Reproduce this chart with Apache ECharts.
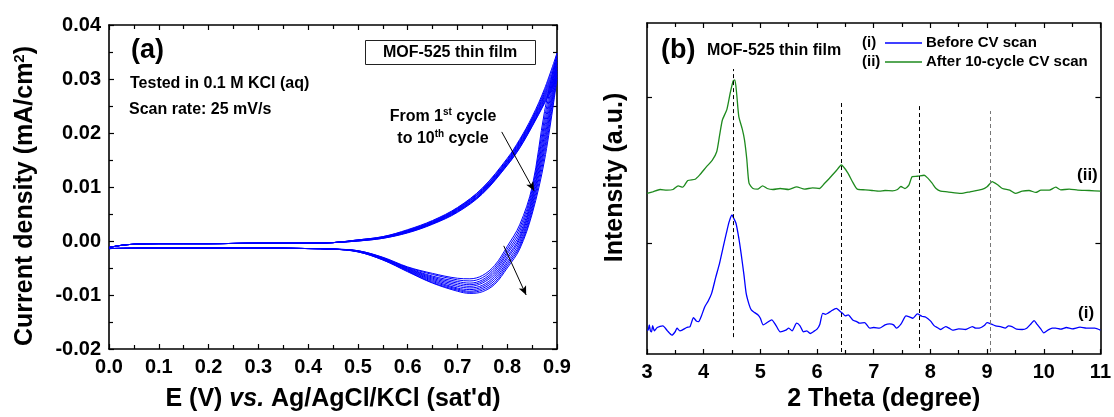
<!DOCTYPE html>
<html>
<head>
<meta charset="utf-8">
<script src="https://cdn.jsdelivr.net/npm/echarts@6.0.0/dist/echarts.min.js"></script>
<style>
html, body { margin: 0; padding: 0; background: #fff; }
#main { width: 1114px; height: 417px; }
</style>
</head>
<body>
<div id="main"></div>
<script>
// ---- panel (a): CV, 10 cycles ----
var cvForwardE = [0, 0.025, 0.05, 0.1, 0.2, 0.3, 0.4, 0.45, 0.5, 0.55, 0.6, 0.65, 0.7, 0.75, 0.8, 0.825, 0.85, 0.875, 0.9];
var cvReverseE = [0.9, 0.875, 0.85, 0.825, 0.8, 0.775, 0.75, 0.725, 0.7, 0.65, 0.6, 0.55, 0.5, 0.45, 0.4, 0.3, 0.2, 0.1, 0];

var cvForward = [
  [-0.0012, -0.0008, -0.0006, -0.0005, -0.0005, -0.0004, -0.0004, -0.0003, 0.0002, 0.0008, 0.0021, 0.0038, 0.0062, 0.0098, 0.0153, 0.0188, 0.0230, 0.0282, 0.0348],
  [-0.0012, -0.0008, -0.0006, -0.0005, -0.0005, -0.0004, -0.0004, -0.0003, 0.0002, 0.0008, 0.0020, 0.0037, 0.0061, 0.0097, 0.0151, 0.0186, 0.0227, 0.0278, 0.0342],
  [-0.0012, -0.0008, -0.0006, -0.0005, -0.0005, -0.0004, -0.0004, -0.0003, 0.0002, 0.0007, 0.0019, 0.0036, 0.0060, 0.0095, 0.0149, 0.0184, 0.0225, 0.0274, 0.0336],
  [-0.0012, -0.0008, -0.0006, -0.0005, -0.0005, -0.0004, -0.0004, -0.0003, 0.0001, 0.0007, 0.0019, 0.0035, 0.0059, 0.0094, 0.0148, 0.0182, 0.0223, 0.0271, 0.0331],
  [-0.0012, -0.0008, -0.0006, -0.0005, -0.0005, -0.0004, -0.0004, -0.0003, 0.0001, 0.0007, 0.0018, 0.0034, 0.0058, 0.0093, 0.0146, 0.0180, 0.0221, 0.0268, 0.0325],
  [-0.0012, -0.0008, -0.0006, -0.0005, -0.0005, -0.0004, -0.0004, -0.0003, 0.0001, 0.0006, 0.0017, 0.0034, 0.0057, 0.0091, 0.0145, 0.0178, 0.0219, 0.0265, 0.0320],
  [-0.0012, -0.0008, -0.0006, -0.0005, -0.0005, -0.0004, -0.0004, -0.0003, 0.0001, 0.0006, 0.0017, 0.0033, 0.0056, 0.0090, 0.0144, 0.0177, 0.0217, 0.0262, 0.0315],
  [-0.0012, -0.0008, -0.0006, -0.0005, -0.0005, -0.0004, -0.0004, -0.0003, 0.0000, 0.0006, 0.0016, 0.0032, 0.0055, 0.0089, 0.0142, 0.0175, 0.0215, 0.0259, 0.0310],
  [-0.0012, -0.0008, -0.0006, -0.0005, -0.0005, -0.0004, -0.0004, -0.0003, 0.0000, 0.0005, 0.0016, 0.0032, 0.0054, 0.0088, 0.0141, 0.0173, 0.0213, 0.0257, 0.0305],
  [-0.0012, -0.0008, -0.0006, -0.0005, -0.0005, -0.0004, -0.0004, -0.0003, 0.0000, 0.0005, 0.0015, 0.0031, 0.0053, 0.0087, 0.0140, 0.0172, 0.0212, 0.0255, 0.0300]
];

var cvReverse = [
  [0.0348, 0.0240, 0.0100, 0.0030, -0.0010, -0.0045, -0.0064, -0.0070, -0.0069, -0.0060, -0.0048, -0.0030, -0.0018, -0.0015, -0.0014, -0.0013, -0.0013, -0.0013, -0.0014],
  [0.0342, 0.0228, 0.0094, 0.0024, -0.0015, -0.0049, -0.0068, -0.0074, -0.0072, -0.0062, -0.0049, -0.0031, -0.0018, -0.0015, -0.0014, -0.0013, -0.0013, -0.0013, -0.0014],
  [0.0336, 0.0217, 0.0088, 0.0018, -0.0020, -0.0053, -0.0072, -0.0078, -0.0075, -0.0065, -0.0050, -0.0031, -0.0018, -0.0015, -0.0014, -0.0013, -0.0013, -0.0013, -0.0014],
  [0.0331, 0.0207, 0.0082, 0.0012, -0.0024, -0.0057, -0.0075, -0.0081, -0.0078, -0.0067, -0.0051, -0.0032, -0.0019, -0.0015, -0.0014, -0.0013, -0.0013, -0.0013, -0.0014],
  [0.0325, 0.0197, 0.0077, 0.0007, -0.0029, -0.0061, -0.0078, -0.0084, -0.0081, -0.0069, -0.0052, -0.0033, -0.0019, -0.0015, -0.0014, -0.0013, -0.0013, -0.0013, -0.0014],
  [0.0320, 0.0188, 0.0072, 0.0003, -0.0033, -0.0065, -0.0082, -0.0087, -0.0084, -0.0071, -0.0053, -0.0033, -0.0019, -0.0015, -0.0014, -0.0013, -0.0013, -0.0013, -0.0014],
  [0.0315, 0.0179, 0.0066, -0.0002, -0.0038, -0.0069, -0.0085, -0.0090, -0.0087, -0.0073, -0.0054, -0.0034, -0.0019, -0.0015, -0.0014, -0.0013, -0.0013, -0.0013, -0.0014],
  [0.0310, 0.0170, 0.0061, -0.0007, -0.0042, -0.0073, -0.0088, -0.0093, -0.0089, -0.0075, -0.0055, -0.0034, -0.0020, -0.0015, -0.0014, -0.0013, -0.0013, -0.0013, -0.0014],
  [0.0305, 0.0160, 0.0055, -0.0011, -0.0046, -0.0077, -0.0091, -0.0095, -0.0091, -0.0077, -0.0056, -0.0035, -0.0020, -0.0015, -0.0014, -0.0013, -0.0013, -0.0013, -0.0014],
  [0.0300, 0.0150, 0.0050, -0.0015, -0.0050, -0.0080, -0.0094, -0.0097, -0.0093, -0.0078, -0.0057, -0.0035, -0.0020, -0.0015, -0.0014, -0.0013, -0.0013, -0.0013, -0.0014]
];

// ---- panel (b): XRD ----
var thetaBefore = [3.00, 3.02, 3.04, 3.06, 3.08, 3.10, 3.13, 3.18, 3.28, 3.36, 3.44, 3.50, 3.53, 3.58, 3.62, 3.70, 3.76, 3.82, 3.87, 3.91,
  3.96, 4.02, 4.08, 4.14, 4.21, 4.28, 4.34, 4.40, 4.45, 4.50, 4.53, 4.57, 4.62, 4.66, 4.71, 4.75, 4.80, 4.84, 4.90, 4.96,
  5.00, 5.05, 5.12, 5.20, 5.28, 5.35, 5.45, 5.50, 5.56, 5.64, 5.70, 5.76, 5.82, 5.88, 5.94, 6.00, 6.05, 6.10, 6.15, 6.19,
  6.25, 6.34, 6.40, 6.45, 6.50, 6.55, 6.63, 6.70, 6.75, 6.84, 6.93, 7.00, 7.10, 7.20, 7.28, 7.35, 7.40, 7.48, 7.57, 7.63,
  7.69, 7.77, 7.85, 7.92, 8.00, 8.07, 8.12, 8.18, 8.27, 8.33, 8.39, 8.50, 8.62, 8.74, 8.80, 8.86, 8.95, 9.00, 9.08, 9.15,
  9.25, 9.32, 9.38, 9.44, 9.52, 9.62, 9.70, 9.78, 9.83, 9.88, 9.95, 10.00, 10.08, 10.15, 10.21, 10.30, 10.40, 10.50, 10.64, 10.75,
  10.90, 11.00];
var intBefore = [72, 72, 88, 70, 67, 86, 70, 80, 85, 70, 57, 68, 78, 70, 72, 80, 83, 110, 100, 98,
  115, 143, 160, 183, 230, 274, 320, 365, 400, 420, 410, 395, 350, 304, 240, 183, 150, 133, 125, 118,
  108, 88, 95, 103, 85, 67, 72, 78, 70, 93, 85, 67, 70, 62, 68, 75, 90, 123, 120, 123,
  130, 138, 130, 123, 115, 118, 103, 98, 93, 95, 78, 80, 78, 88, 91, 88, 78, 90, 115, 112,
  108, 121, 114, 111, 100, 85, 80, 74, 83, 78, 72, 76, 74, 83, 78, 78, 86, 95, 90, 85,
  82, 78, 85, 83, 75, 74, 78, 92, 101, 90, 75, 64, 73, 78, 78, 75, 80, 76, 81, 78,
  78, 72];

var thetaAfter = [3.00, 3.10, 3.23, 3.35, 3.46, 3.55, 3.63, 3.72, 3.85, 3.93, 4.05, 4.15, 4.23, 4.28, 4.33, 4.41, 4.47, 4.52, 4.55, 4.58,
  4.62, 4.68, 4.72, 4.76, 4.80, 4.87, 4.95, 5.04, 5.12, 5.22, 5.35, 5.50, 5.64, 5.78, 5.92, 6.04, 6.13, 6.22, 6.33, 6.43,
  6.54, 6.62, 6.71, 6.85, 6.97, 7.10, 7.20, 7.33, 7.42, 7.48, 7.55, 7.62, 7.68, 7.77, 7.89, 7.95, 8.03, 8.10, 8.18, 8.30,
  8.54, 8.70, 8.91, 9.00, 9.09, 9.18, 9.27, 9.40, 9.50, 9.62, 9.74, 9.86, 9.95, 10.10, 10.21, 10.30, 10.45, 10.60, 10.80, 11.00];
var intAfter = [485, 490, 497, 495, 497, 508, 504, 524, 528, 541, 566, 585, 611, 660, 707, 739, 790, 825, 828, 790,
  717, 680, 647, 590, 516, 500, 498, 508, 500, 497, 500, 497, 505, 498, 502, 500, 515, 531, 552, 571,
  548, 522, 498, 496, 494, 492, 494, 493, 497, 506, 500, 510, 536, 537, 540, 532, 516, 500, 492, 490,
  485, 490, 497, 505, 521, 512, 500, 495, 485, 492, 494, 488, 495, 495, 504, 496, 498, 495, 494, 492];

var peakTheta = [4.53, 6.42, 7.80, 9.06];
var peakLineFrom = [51, 6, 18, 6];
var peakLineTo = [861, 767, 749, 734];
var intensityTicks = [334, 777];

var legendNames = ['Before CV scan', 'After 10-cycle CV scan'];
var legendTags = ['(i)', '(ii)'];
var blue = '#0000ff', green = '#1e8a1e';

var FONT = "'Liberation Sans', Arial, Helvetica, sans-serif";

var chart = echarts.init(document.getElementById('main'), null, { renderer: 'canvas' });

function frameAxis(gridIndex, pos, min, max, interval, opts) {
  var ax = {
    type: 'value', gridIndex: gridIndex, position: pos,
    min: min, max: max, interval: interval,
    axisLine: { show: true, onZero: false, lineStyle: { color: '#000', width: 1.6 } },
    axisTick: { show: true, inside: true, length: 5, lineStyle: { color: '#000', width: 1.2 } },
    minorTick: { show: true, splitNumber: 2, length: 4, lineStyle: { color: '#000', width: 1.2 } },
    splitLine: { show: false },
    axisLabel: { show: false }
  };
  for (var k in opts) ax[k] = opts[k];
  return ax;
}

var labelStyle = function (fmt, margin) {
  return { show: true, color: '#000', fontSize: 20, fontWeight: 'bold', fontFamily: FONT, margin: margin,
    formatter: fmt, showMinLabel: true, showMaxLabel: true };
};

var nameRich = {
  a: { fontSize: 25, fontWeight: 'bold', fontFamily: FONT, color: '#000' },
  i: { fontSize: 25, fontWeight: 'bold', fontStyle: 'italic', fontFamily: FONT, color: '#000' },
  s: { fontSize: 15, fontWeight: 'bold', fontFamily: FONT, color: '#000', padding: [0, 0, 12, 0] }
};

var series = [];
for (var c = 0; c < cvForward.length; c++) {
  var pts = [];
  for (var i = 0; i < cvForwardE.length; i++) pts.push([cvForwardE[i], cvForward[c][i]]);
  for (var j = 1; j < cvReverseE.length; j++) pts.push([cvReverseE[j], cvReverse[c][j]]);
  series.push({
    name: 'cycle ' + (c + 1), type: 'line', xAxisIndex: 0, yAxisIndex: 0,
    data: pts, smooth: 0.35, showSymbol: false, symbol: 'none',
    lineStyle: { color: blue, width: 1 }, silent: true
  });
}
series[0].markLine = {
  silent: true, symbol: ['none', 'arrow'], symbolSize: [6, 9],
  label: { show: false },
  lineStyle: { color: '#000', width: 1, type: 'solid' },
  data: [
    [{ coord: [0.789, 0.0202] }, { coord: [0.854, 0.0093] }],
    [{ coord: [0.793, -0.0009] }, { coord: [0.838, -0.0100] }]
  ]
};

var peakLines = [];
for (var p = 0; p < peakTheta.length; p++) {
  peakLines.push([
    { coord: [peakTheta[p], peakLineFrom[p]], lineStyle: { color: p === 3 ? '#777' : '#000' } },
    { coord: [peakTheta[p], peakLineTo[p]] }
  ]);
}

series.push({
  name: legendNames[0], type: 'line', xAxisIndex: 2, yAxisIndex: 2,
  data: thetaBefore.map(function (t, k) { return [t, intBefore[k]]; }),
  showSymbol: false, symbol: 'none', smooth: 0.2,
  itemStyle: { color: blue }, lineStyle: { color: blue, width: 1.3 },
  markLine: {
    silent: true, symbol: ['none', 'none'], label: { show: false },
    lineStyle: { color: '#000', width: 1, type: [4, 3] },
    data: peakLines
  }
});
series.push({
  name: legendNames[1], type: 'line', xAxisIndex: 2, yAxisIndex: 2,
  data: thetaAfter.map(function (t, k) { return [t, intAfter[k]]; }),
  showSymbol: false, symbol: 'none', smooth: 0.2,
  itemStyle: { color: green }, lineStyle: { color: green, width: 1.3 }
});

function txt(x, y, text, size, extra) {
  var st = { text: text, x: x, y: y, fill: '#000', font: 'bold ' + size + 'px ' + FONT,
    align: 'left', verticalAlign: 'middle' };
  if (extra) for (var k in extra) st[k] = extra[k];
  return { type: 'text', silent: true, style: st, z: 100 };
}

var supRich = {
  a: { fontSize: 16, fontWeight: 'bold', fontFamily: FONT, fill: '#000', color: '#000' },
  s: { fontSize: 10, fontWeight: 'bold', fontFamily: FONT, fill: '#000', color: '#000', padding: [0, 0, 9, 0] }
};

var graphics = [
  txt(131, 51, '(a)', 27),
  { type: 'rect', silent: true, z: 99, shape: { x: 365.5, y: 40.5, width: 170, height: 24 },
    style: { fill: '#fff', stroke: '#222', lineWidth: 1 } },
  txt(450, 52.5, 'MOF-525 thin film', 16, { align: 'center' }),
  txt(130, 84, 'Tested in 0.1 M KCl (aq)', 16),
  txt(129, 110, 'Scan rate: 25 mV/s', 16),
  txt(443, 117, '{a|From 1}{s|st}{a| cycle}', 16, { align: 'center', rich: supRich }),
  txt(443, 139, '{a|to 10}{s|th}{a| cycle}', 16, { align: 'center', rich: supRich }),
  txt(661, 51, '(b)', 27),
  txt(707, 51, 'MOF-525 thin film', 16),
  txt(1077, 175, '(ii)', 17),
  txt(1078, 313, '(i)', 17)
];
// legend drawn as graphic: tag, line sample, name
var legendColors = [blue, green];
for (var g = 0; g < legendNames.length; g++) {
  var ly = 43 + g * 19;
  graphics.push(txt(862, ly, legendTags[g], 15));
  graphics.push({ type: 'line', silent: true, z: 100,
    shape: { x1: 885, y1: ly, x2: 922, y2: ly },
    style: { stroke: legendColors[g], lineWidth: 1.5 } });
  graphics.push(txt(926, ly, legendNames[g], 15));
}

var option = {
  animation: false,
  backgroundColor: '#fff',
  textStyle: { fontFamily: FONT },
  grid: [
    { left: 109, top: 25, width: 448, height: 324 },
    { left: 647, top: 23, width: 455, height: 331 }
  ],
  xAxis: [
    frameAxis(0, 'bottom', 0, 0.9, 0.1, {
      axisLabel: labelStyle(function (v) { return v.toFixed(1); }, 8),
      name: "{a|E (V) }{i|vs.}{a| Ag/AgCl/KCl (sat'd)}",
      nameLocation: 'middle', nameGap: 38,
      nameTextStyle: { rich: nameRich }
    }),
    frameAxis(0, 'top', 0, 0.9, 0.1, {}),
    frameAxis(1, 'bottom', 3, 11, 1, {
      axisLabel: labelStyle(function (v) { return String(v); }, 8),
      name: '2 Theta (degree)', nameLocation: 'middle', nameGap: 33,
      nameTextStyle: { color: '#000', fontSize: 25, fontWeight: 'bold', fontFamily: FONT, padding: [0, 0, 0, 20] }
    }),
    frameAxis(1, 'top', 3, 11, 1, {})
  ],
  yAxis: [
    frameAxis(0, 'left', -0.02, 0.04, 0.01, {
      axisLabel: labelStyle(function (v) { return v.toFixed(2); }, 8),
      name: '{a|Current density (mA/cm}{s|2}{a|)}',
      nameLocation: 'middle', nameRotate: 90, nameGap: 70,
      nameTextStyle: { rich: nameRich, padding: [0, 18, 0, 0] }
    }),
    frameAxis(0, 'right', -0.02, 0.04, 0.01, {}),
    frameAxis(1, 'left', 0, 1000, 1000, {
      minorTick: { show: false },
      axisTick: { show: true, inside: true, length: 5, customValues: intensityTicks, lineStyle: { color: '#000', width: 1.2 } },
      name: 'Intensity (a.u.)', nameLocation: 'middle', nameRotate: 90, nameGap: 19,
      nameTextStyle: { color: '#000', fontSize: 25, fontWeight: 'bold', fontFamily: FONT, padding: [0, 0, 0, 22] }
    }),
    frameAxis(1, 'right', 0, 1000, 1000, {
      minorTick: { show: false },
      axisTick: { show: true, inside: true, length: 5, customValues: intensityTicks, lineStyle: { color: '#000', width: 1.2 } }
    })
  ],
  series: series,
  graphic: graphics
};

chart.setOption(option);
</script>
</body>
</html>
